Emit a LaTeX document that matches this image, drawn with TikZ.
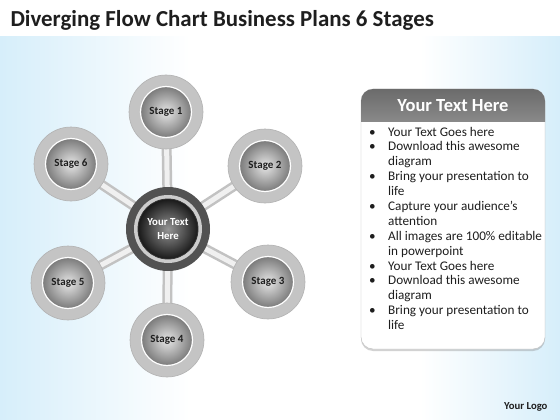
\documentclass[tikz,border=0pt]{standalone}
\usepackage{fontspec}
\setmainfont{Carlito}
\usetikzlibrary{shadows}
\definecolor{bgblue}{RGB}{214,238,250}
\definecolor{ink}{RGB}{30,30,30}
\pgfdeclarelayer{back}
\pgfdeclarelayer{links}
\pgfsetlayers{back,links,main}
\begin{document}
\begin{tikzpicture}[x = 1pt, y = -1pt,
    stage/.style = {circle, minimum size = 51pt, inner sep = 0pt, draw = white, line width = 1.2pt,
                    inner color = black!10, outer color = black!52, text = ink,
                    font = \bfseries\fontsize{11}{13}\selectfont},
    hub/.style   = {circle, minimum size = 60pt, inner sep = 0pt, draw = black!80, line width = 0.8pt,
                    inner color = black!42, outer color = black!90, text = white, align = center,
                    font = \bfseries\fontsize{10.8}{14}\selectfont},
    ring/.style  = {fill = black!23, draw = black!30, line width = 0.6pt},
    stalk/.style = {line width = 10pt, draw = black!24},
    core/.style  = {line width = 5pt, draw = black!6}]
  \useasboundingbox (0,0) rectangle (560,420);

  % background
  \begin{pgfonlayer}{back}
    \fill[white] (0,0) rectangle (560,420);
    \shade[left color = bgblue, right color = white] (0,37) rectangle (190,420);
    \shade[left color = white, right color = bgblue] (420,37) rectangle (560,420);
  \end{pgfonlayer}

  \node[anchor = base west, text = ink, font = \bfseries\fontsize{22.9}{27}\selectfont] at (7,27) (title)
    {Diverging Flow Chart Business Plans 6 Stages};

  % stages
  \node[hub]   at (168,229) (c) {Your Text\\Here};
  \node[stage] at (166,112) (1) {Stage 1};
  \node[stage] at (265,166) (2) {Stage 2};
  \node[stage] at (268,282) (3) {Stage 3};
  \node[stage] at (167,340) (4) {Stage 4};
  \node[stage] at ( 68,283) (5) {Stage 5};
  \node[stage] at ( 71,164) (6) {Stage 6};

  \begin{pgfonlayer}{links}
    \foreach \n in {1,...,6} {
      \draw[stalk] (c.center) -- (\n.center);
      \draw[core]  (c.center) -- (\n.center);
    }
    \foreach \n in {1,...,6}
      \path[ring] (\n) circle[radius = 37pt];
    \fill[black!68] (c) circle[radius = 42pt];
    \fill[black!20] (c) circle[radius = 34pt];
  \end{pgfonlayer}

  % text box
  \path[draw = black!25, fill = white, rounded corners = 12pt,
        drop shadow = {opacity = 0.35, shadow xshift = 0pt, shadow yshift = -2pt}]
    (361,89) rectangle (545,349);
  \begin{scope}
    \clip (361,89) rectangle (545,121);
    \shade[top color = black!58, bottom color = black!36, rounded corners = 12pt]
      (361,89) rectangle (545,150);
  \end{scope}
  \node[anchor = base, text = white, font = \bfseries\fontsize{18.5}{22}\selectfont] at (453,112) (head)
    {Your Text Here};
  \node[anchor = base west, inner sep = 0pt, text = ink, font = \fontsize{13.2}{14.9}\selectfont] at (369,136) (list)
    {\begin{tabular}[t]{@{}p{19pt}@{}l@{}}
      \textbullet & Your Text Goes here\\
      \textbullet & Download this awesome\\
                  & diagram\\
      \textbullet & Bring your presentation to\\
                  & life\\
      \textbullet & Capture your audience’s\\
                  & attention\\
      \textbullet & All images are 100\% editable\\
                  & in powerpoint\\
      \textbullet & Your Text Goes here\\
      \textbullet & Download this awesome\\
                  & diagram\\
      \textbullet & Bring your presentation to\\
                  & life
    \end{tabular}};

  \node[anchor = base east, text = ink, font = \bfseries\fontsize{10.7}{13}\selectfont] at (551,409) (logo)
    {Your Logo};
\end{tikzpicture}
\end{document}
